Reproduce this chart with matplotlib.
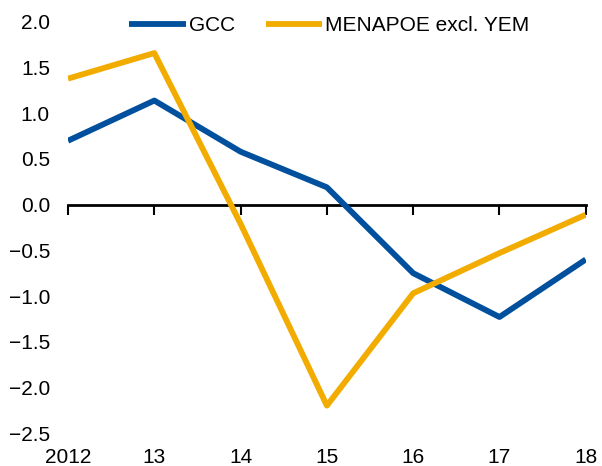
import matplotlib
matplotlib.use("Agg")
import matplotlib.pyplot as plt

years = [2012, 2013, 2014, 2015, 2016, 2017, 2018]
xlabels = ["2012", "13", "14", "15", "16", "17", "18"]
gcc = [0.70, 1.14, 0.58, 0.19, -0.75, -1.23, -0.60]
menapoe = [1.38, 1.66, -0.21, -2.20, -0.97, -0.53, -0.11]
yticks = [2.0, 1.5, 1.0, 0.5, 0.0, -0.5, -1.0, -1.5, -2.0, -2.5]

plt.rcParams['font.family'] = ['Liberation Sans', 'DejaVu Sans']
plt.rcParams['axes.unicode_minus'] = True

fig = plt.figure(figsize=(6.02, 4.66), dpi=100)
ax = fig.add_axes([0.113, 0.0708, 0.860, 0.882])

ax.plot(years, gcc, color="#00509E", lw=4.2, label="GCC", solid_capstyle="butt")
ax.plot(years, menapoe, color="#F2AC00", lw=4.2, label="MENAPOE excl. YEM", solid_capstyle="butt")

ymin, ymax = -2.5, 2.0
ax.set_ylim(ymin, ymax)
ax.set_xlim(years[0], years[-1])
ax.set_yticks(yticks)
ax.set_yticklabels([f"{v:.1f}".replace("-", "\u2212") for v in yticks], fontsize=15)
ax.tick_params(axis="y", length=0, pad=13)

for s in ["top", "right", "left", "bottom"]:
    ax.spines[s].set_visible(False)

# bottom labels without tick marks
ax.set_xticks(years)
ax.set_xticklabels(xlabels, fontsize=15)
ax.tick_params(axis="x", length=0, pad=11)

# zero line with upward ticks
loc0 = (0 - ymin) / (ymax - ymin)
sec = ax.secondary_xaxis(loc0)
sec.set_xticks(years)
sec.set_xticklabels([])
sec.tick_params(axis="x", direction="in", length=7, width=1.5, color="black")
for s in sec.spines.values():
    s.set_linewidth(2)
    s.set_color("black")

leg = ax.legend(loc="upper center", bbox_to_anchor=(0.505, 1.06), ncol=2, frameon=False,
                fontsize=15, handlelength=2.7, handletextpad=0.15, columnspacing=1.5)

fig.savefig("out.png", dpi=100)
